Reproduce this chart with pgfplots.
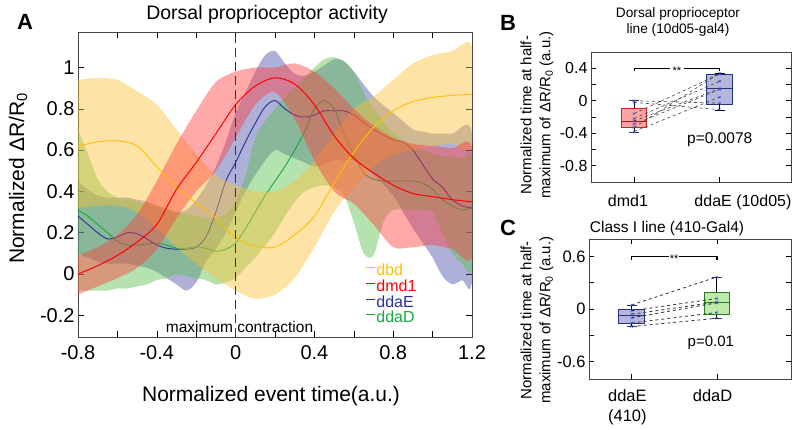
\documentclass[border=0pt]{standalone}
\usepackage{pgfplots}
\pgfplotsset{compat=1.18}
\usepackage{fontspec}
\setmainfont{Liberation Sans}

\definecolor{dbdc}{RGB}{255,192,0}
\definecolor{dmdc}{RGB}{255,0,0}
\definecolor{ddaEc}{RGB}{40,48,150}
\definecolor{ddaDc}{RGB}{20,170,60}
\definecolor{dbdf}{RGB}{251,193,58}
\definecolor{dmdf}{RGB}{255,64,64}
\definecolor{ddaEf}{RGB}{75,80,168}
\definecolor{ddaDf}{RGB}{92,192,78}
\definecolor{frame}{RGB}{70,70,70}
\definecolor{boxRf}{RGB}{250,165,165}
\definecolor{boxRd}{RGB}{190,40,40}
\definecolor{boxEf}{RGB}{180,182,222}
\definecolor{boxEd}{RGB}{40,50,120}
\definecolor{boxDf}{RGB}{190,235,172}
\definecolor{boxDd}{RGB}{40,120,40}
\definecolor{ptc}{RGB}{60,80,200}

\begin{document}
\begin{tikzpicture}
\path[use as bounding box] (0,0) rectangle (800pt,430pt);

% ---------------- Panel A ----------------
\begin{axis}[
  at={(78pt,93pt)}, anchor=south west, scale only axis,
  width=394pt, height=305pt,
  xmin=-0.8, xmax=1.2, ymin=-0.305, ymax=1.172,
  xtick={-0.8,-0.4,0,0.4,0.8,1.2}, xticklabels={-0.8,-0.4,0,0.4,0.8,1.2},
  minor xtick={-0.6,-0.2,0.2,0.6,1.0},
  ytick={-0.2,0,0.2,0.4,0.6,0.8,1}, yticklabels={-0.2,0,0.2,0.4,0.6,0.8,1},
  tick align=inside, major tick length=6pt, minor tick length=6pt,
  tick style={black, line width=0.6pt},
  axis line style={frame, line width=0.8pt},
  ticklabel style={font=\fontsize{20}{22}\selectfont},
  xticklabel style={yshift=-5pt},
  xlabel={Normalized event time(a.u.)},
  xlabel style={font=\fontsize{21}{24}\selectfont, at={(axis description cs:0.49,0)}, anchor=center, yshift=-59pt},
  ylabel={Normalized ΔR/R\textsubscript{0}},
  ylabel style={font=\fontsize{21}{24}\selectfont, at={(axis description cs:-0.152,0.52)}, anchor=center},
  title={Dorsal proprioceptor activity},
  title style={font=\fontsize{19.5}{22}\selectfont, at={(axis description cs:0.48,1)}, anchor=center, yshift=12pt},
  legend style={draw=none, fill=none, at={(0.73,0.242)}, anchor=north west, inner sep=0pt, row sep=1.5pt,
    font=\fontsize{16}{17}\selectfont, nodes={inner sep=0.6pt}},
  legend image code/.code={\draw[#1, line width=1pt] (0pt,3pt) -- (9pt,3pt);},
  legend cell align=left,
]
\addlegendimage{dbdc}
\addlegendimage{dmdc}
\addlegendimage{ddaEc}
\addlegendimage{ddaDc}
\legend{\textcolor{dbdc}{dbd},\textcolor{dmdc}{dmd1},\textcolor{ddaEc}{ddaE},\textcolor{ddaDc}{ddaD}}

% ddaE band (upper edge forward, lower edge backward)
\addplot[fill=ddaEf, fill opacity=0.45, draw=none, smooth] table {
-0.8 0.45
-0.75 0.41
-0.7 0.38
-0.65 0.37
-0.6 0.37
-0.55 0.37
-0.5 0.36
-0.45 0.35
-0.4 0.33
-0.35 0.31
-0.3 0.30
-0.25 0.31
-0.2 0.36
-0.15 0.43
-0.1 0.52
-0.05 0.64
0 0.78
0.05 0.88
0.1 0.98
0.15 1.06
0.2 1.08
0.25 1.02
0.3 0.97
0.35 0.96
0.4 0.98
0.45 1.01
0.5 1.04
0.55 1.03
0.6 0.98
0.7 0.86
0.8 0.78
0.85 0.74
0.9 0.70
0.95 0.69
1.0 0.68
1.1 0.68
1.2 0.68
1.2 -0.03
1.15 -0.03
1.1 -0.05
1.05 -0.01
1.0 0.08
0.95 0.15
0.9 0.22
0.85 0.30
0.8 0.38
0.7 0.48
0.6 0.55
0.55 0.55
0.5 0.55
0.45 0.53
0.4 0.52
0.35 0.54
0.3 0.56
0.25 0.58
0.2 0.60
0.15 0.55
0.1 0.48
0.05 0.40
0 0.30
-0.05 0.20
-0.1 0.12
-0.15 0.06
-0.2 -0.04
-0.25 -0.08
-0.3 -0.05
-0.35 -0.02
-0.4 0.01
-0.45 0.03
-0.5 0.04
-0.55 0.05
-0.6 0.05
-0.65 0.05
-0.7 0.06
-0.75 0.08
-0.8 0.10
} -- cycle;

% ddaD band
\addplot[fill=ddaDf, fill opacity=0.45, draw=none, smooth] table {
-0.8 0.70
-0.75 0.58
-0.7 0.46
-0.65 0.40
-0.6 0.37
-0.55 0.36
-0.5 0.35
-0.45 0.34
-0.4 0.33
-0.35 0.32
-0.3 0.30
-0.25 0.29
-0.2 0.28
-0.15 0.27
-0.1 0.27
-0.05 0.29
0 0.35
0.05 0.48
0.1 0.66
0.15 0.74
0.2 0.80
0.25 0.86
0.3 0.90
0.35 0.95
0.4 1.00
0.45 1.04
0.5 1.05
0.55 1.03
0.6 0.98
0.65 0.88
0.7 0.80
0.75 0.74
0.8 0.68
0.9 0.62
0.95 0.60
1.0 0.58
1.05 0.57
1.1 0.57
1.15 0.56
1.2 0.56
1.2 0.03
1.15 0.05
1.1 0.10
1.05 0.20
1.0 0.30
0.95 0.31
0.9 0.31
0.8 0.31
0.75 0.25
0.7 0.09
0.65 0.10
0.6 0.25
0.55 0.38
0.5 0.42
0.45 0.43
0.4 0.42
0.35 0.40
0.3 0.35
0.25 0.28
0.2 0.20
0.15 0.14
0.1 0.08
0.05 0.03
0 -0.02
-0.05 -0.04
-0.1 -0.05
-0.15 -0.03
-0.2 -0.02
-0.25 -0.01
-0.3 0.0
-0.35 -0.02
-0.4 -0.03
-0.45 -0.05
-0.5 -0.06
-0.55 -0.07
-0.6 -0.07
-0.65 -0.08
-0.7 -0.08
-0.75 -0.08
-0.8 -0.08
} -- cycle;

% ddaE mean
\addplot[ddaEc, line width=0.9pt, smooth] table {
-0.8 0.28
-0.75 0.24
-0.7 0.20
-0.65 0.17
-0.6 0.18
-0.55 0.20
-0.5 0.195
-0.45 0.17
-0.4 0.14
-0.35 0.125
-0.3 0.12
-0.25 0.12
-0.2 0.13
-0.15 0.18
-0.1 0.30
-0.05 0.45
0 0.54
0.05 0.64
0.1 0.73
0.15 0.81
0.2 0.84
0.25 0.80
0.3 0.77
0.35 0.76
0.4 0.77
0.45 0.79
0.5 0.79
0.55 0.79
0.6 0.77
0.7 0.70
0.8 0.65
0.85 0.64
0.9 0.60
0.95 0.53
1.0 0.46
1.05 0.42
1.1 0.36
1.15 0.33
1.2 0.32
};

% ddaD mean
\addplot[ddaDc, line width=0.9pt, smooth] table {
-0.8 0.31
-0.75 0.28
-0.7 0.24
-0.65 0.20
-0.6 0.16
-0.55 0.14
-0.5 0.14
-0.45 0.145
-0.4 0.15
-0.35 0.14
-0.3 0.125
-0.25 0.125
-0.2 0.13
-0.15 0.125
-0.1 0.11
-0.05 0.12
0 0.15
0.05 0.22
0.1 0.30
0.15 0.38
0.2 0.45
0.25 0.52
0.3 0.60
0.35 0.69
0.4 0.80
0.45 0.84
0.5 0.80
0.55 0.68
0.6 0.58
0.65 0.49
0.7 0.46
0.75 0.45
0.8 0.45
0.9 0.45
0.95 0.44
1.0 0.41
1.05 0.36
1.1 0.33
1.15 0.31
1.2 0.32
};

% dbd band
\addplot[fill=dbdf, fill opacity=0.45, draw=none, smooth] table {
-0.8 0.94
-0.7 0.95
-0.6 0.94
-0.5 0.885
-0.4 0.82
-0.3 0.70
-0.2 0.58
-0.1 0.48
0.0 0.43
0.1 0.40
0.2 0.40
0.3 0.45
0.4 0.55
0.5 0.68
0.6 0.80
0.7 0.86
0.8 0.94
0.9 1.02
1.0 1.06
1.1 1.08
1.2 1.10
1.2 0.63
1.1 0.63
1.0 0.62
0.9 0.60
0.8 0.58
0.7 0.52
0.6 0.42
0.5 0.30
0.4 0.13
0.3 -0.02
0.2 -0.10
0.1 -0.12
0.0 -0.08
-0.1 -0.02
-0.2 0.05
-0.3 0.13
-0.4 0.22
-0.5 0.30
-0.6 0.33
-0.7 0.33
-0.8 0.32
} -- cycle;

% dmd1 band
\addplot[fill=dmdf, fill opacity=0.45, draw=none, smooth] table {
-0.8 0.09
-0.7 0.13
-0.6 0.19
-0.5 0.29
-0.4 0.45
-0.3 0.63
-0.2 0.79
-0.1 0.93
0.0 0.98
0.1 1.00
0.2 1.00
0.3 1.02
0.4 0.98
0.5 0.90
0.6 0.80
0.7 0.72
0.8 0.66
0.9 0.63
1.0 0.62
1.1 0.61
1.2 0.61
1.2 0.09
1.1 0.12
1.0 0.14
0.9 0.13
0.8 0.13
0.7 0.24
0.6 0.34
0.5 0.40
0.4 0.55
0.3 0.75
0.2 0.88
0.1 0.82
0.0 0.66
-0.1 0.50
-0.2 0.40
-0.3 0.27
-0.4 0.12
-0.5 0.03
-0.6 -0.02
-0.7 -0.06
-0.8 -0.10
} -- cycle;

% dbd mean
\addplot[dbdc, line width=0.9pt, smooth] table {
-0.8 0.62
-0.7 0.64
-0.6 0.645
-0.5 0.62
-0.4 0.52
-0.3 0.42
-0.2 0.345
-0.1 0.27
0.0 0.175
0.1 0.135
0.2 0.13
0.3 0.19
0.4 0.28
0.5 0.44
0.6 0.59
0.7 0.71
0.8 0.79
0.9 0.835
1.0 0.855
1.1 0.865
1.2 0.87
};

% dmd1 mean
\addplot[dmdc, line width=1pt, smooth] table {
-0.8 0.0
-0.7 0.04
-0.6 0.09
-0.5 0.155
-0.4 0.24
-0.3 0.41
-0.2 0.54
-0.1 0.68
0.0 0.82
0.1 0.91
0.2 0.95
0.3 0.92
0.4 0.82
0.5 0.67
0.6 0.56
0.7 0.49
0.8 0.43
0.9 0.39
1.0 0.375
1.1 0.36
1.2 0.35
};

\addplot[black!80, line width=1pt, dash pattern=on 9pt off 5pt] coordinates {(0,-0.305) (0,1.172)};
\node[font=\fontsize{15.5}{17}\selectfont] at (axis cs:0.02,-0.255) {maximum contraction};
\end{axis}

% ---------------- Panel B ----------------
\begin{axis}[
  at={(591pt,248pt)}, anchor=south west, scale only axis,
  width=200pt, height=130pt,
  xmin=0.5, xmax=2.83, ymin=-1, ymax=0.6,
  xtick={1,2}, xticklabels={,}, xtick pos=left,
  extra x ticks={0.93,2.27}, extra x tick labels={dmd1,ddaE (10d05)},
  extra x tick style={major tick length=0pt, xticklabel style={yshift=-9pt}},
  ytick={-0.8,-0.4,0,0.4}, yticklabels={-0.8,-0.4,0,0.4},
  minor ytick={-0.6,-0.2,0.2},
  tick align=inside, major tick length=5pt, minor tick length=5pt,
  tick style={black, line width=0.6pt},
  axis line style={frame, line width=0.8pt},
  ticklabel style={font=\fontsize{16}{18}\selectfont},
  title={Dorsal proprioceptor\\line (10d05-gal4)},
  title style={font=\fontsize{13.7}{16.5}\selectfont, align=center, at={(axis description cs:0.435,1)}, anchor=center, yshift=24pt},
  ylabel={Normalized time at half-\\maximum of ΔR/R\textsubscript{0} (a.u.)},
  ylabel style={font=\fontsize{15}{19}\selectfont, align=center, at={(axis description cs:-0.27,0.515)}, anchor=center},
]
% dmd1 box
\addplot[draw=boxRd, fill=boxRf, line width=0.8pt] coordinates {(0.85,-0.33) (1.15,-0.33) (1.15,-0.095) (0.85,-0.095)} -- cycle;
\addplot[red!85!black, line width=1pt] coordinates {(0.85,-0.255) (1.15,-0.255)};
\addplot[black, line width=0.8pt] coordinates {(1,-0.095) (1,0)};
\addplot[boxEd, line width=0.9pt] coordinates {(0.94,0) (1.06,0)};
\addplot[black, line width=0.8pt] coordinates {(1,-0.33) (1,-0.385)};
\addplot[boxEd, line width=0.9pt] coordinates {(0.94,-0.385) (1.06,-0.385)};
% ddaE box
\addplot[draw=boxEd, fill=boxEf, line width=0.8pt] coordinates {(1.85,-0.04) (2.15,-0.04) (2.15,0.33) (1.85,0.33)} -- cycle;
\addplot[boxEd, line width=1pt] coordinates {(1.85,0.145) (2.15,0.145)};
\addplot[black, line width=0.8pt] coordinates {(2,0.33) (2,0.34)};
\addplot[black, line width=0.9pt] coordinates {(1.94,0.34) (2.06,0.34)};
\addplot[black, line width=0.8pt] coordinates {(2,-0.04) (2,-0.12)};
\addplot[black, line width=0.9pt] coordinates {(1.94,-0.12) (2.06,-0.12)};
% paired data
\addplot[black!75, dashed, line width=0.6pt] coordinates {(1,0.0) (2,-0.03)};
\addplot[black!75, dashed, line width=0.6pt] coordinates {(1,-0.02) (2,-0.11)};
\addplot[black!75, dashed, line width=0.6pt] coordinates {(1,-0.16) (2,0.33)};
\addplot[black!75, dashed, line width=0.6pt] coordinates {(1,-0.22) (2,0.24)};
\addplot[black!75, dashed, line width=0.6pt] coordinates {(1,-0.25) (2,0.15)};
\addplot[black!75, dashed, line width=0.6pt] coordinates {(1,-0.29) (2,0.14)};
\addplot[black!75, dashed, line width=0.6pt] coordinates {(1,-0.33) (2,0.34)};
\addplot[black!75, dashed, line width=0.6pt] coordinates {(1,-0.38) (2,0.045)};
\addplot[only marks, mark=x, mark size=1.8pt, ptc] coordinates {(1,0.0) (1,-0.02) (1,-0.16) (1,-0.22) (1,-0.25) (1,-0.29) (1,-0.33) (1,-0.38)
  (2,-0.03) (2,-0.11) (2,0.33) (2,0.24) (2,0.15) (2,0.14) (2,0.34) (2,0.045)};
\addplot[black, line width=0.8pt] coordinates {(1,0.36) (1,0.4) (1.42,0.4)};
\addplot[black, line width=0.8pt] coordinates {(1.58,0.4) (2,0.4) (2,0.36)};
\node[font=\fontsize{11}{12}\selectfont, yshift=-2pt] at (axis cs:1.5,0.4) {**};
\node[font=\fontsize{15.5}{17}\selectfont] at (axis cs:2.0,-0.48) {p=0.0078};
\end{axis}

% ---------------- Panel C ----------------
\begin{axis}[
  at={(589pt,51pt)}, anchor=south west, scale only axis,
  width=202pt, height=140pt,
  xmin=0.5, xmax=2.87, ymin=-0.8, ymax=0.8,
  xtick={1,2}, xticklabels={,},
  extra x ticks={0.95,1.95}, extra x tick labels={ddaE\\(410),ddaD},
  extra x tick style={major tick length=0pt, xticklabel style={yshift=-7pt}},
  xticklabel style={align=center},
  ytick={-0.6,0,0.6}, yticklabels={-0.6,0,0.6},
  minor ytick={-0.3,0.3},
  tick align=inside, major tick length=5pt, minor tick length=5pt,
  tick style={black, line width=0.6pt},
  axis line style={frame, line width=0.8pt},
  ticklabel style={font=\fontsize{16.5}{20}\selectfont},
  ylabel={Normalized time at half-\\maximum of ΔR/R\textsubscript{0} (a.u.)},
  ylabel style={font=\fontsize{15}{19}\selectfont, align=center, at={(axis description cs:-0.257,0.42)}, anchor=center},
]
% ddaE box
\addplot[draw=boxEd, fill=boxEf, line width=0.8pt] coordinates {(0.85,-0.16) (1.15,-0.16) (1.15,0.0) (0.85,0.0)} -- cycle;
\addplot[boxEd, line width=1pt] coordinates {(0.85,-0.076) (1.15,-0.076)};
\addplot[black, line width=0.8pt] coordinates {(1,0.0) (1,0.046)};
\addplot[boxEd, line width=0.9pt] coordinates {(0.94,0.046) (1.06,0.046)};
\addplot[black, line width=0.8pt] coordinates {(1,-0.16) (1,-0.2)};
\addplot[boxEd, line width=0.9pt] coordinates {(0.94,-0.2) (1.06,-0.2)};
% ddaD box
\addplot[draw=boxDd, fill=boxDf, line width=0.8pt] coordinates {(1.85,-0.065) (2.15,-0.065) (2.15,0.19) (1.85,0.19)} -- cycle;
\addplot[boxDd, line width=1pt] coordinates {(1.85,0.077) (2.15,0.077)};
\addplot[black, line width=0.8pt] coordinates {(2,0.19) (2,0.366)};
\addplot[boxEd, line width=0.9pt] coordinates {(1.94,0.366) (2.06,0.366)};
\addplot[black, line width=0.8pt] coordinates {(2,-0.065) (2,-0.106)};
\addplot[boxEd, line width=0.9pt] coordinates {(1.94,-0.106) (2.06,-0.106)};
% paired data
\addplot[black!80, dashed, line width=0.8pt] coordinates {(1,0.046) (2,0.366)};
\addplot[black!80, dashed, line width=0.8pt] coordinates {(1,-0.02) (2,0.12)};
\addplot[black!80, dashed, line width=0.8pt] coordinates {(1,-0.06) (2,0.08)};
\addplot[black!80, dashed, line width=0.8pt] coordinates {(1,-0.1) (2,0.07)};
\addplot[black!80, dashed, line width=0.8pt] coordinates {(1,-0.16) (2,-0.04)};
\addplot[black!80, dashed, line width=0.8pt] coordinates {(1,-0.2) (2,-0.106)};
\addplot[only marks, mark=x, mark size=1.8pt, ptc] coordinates {(1,0.046) (1,-0.02) (1,-0.06) (1,-0.1) (1,-0.16) (1,-0.2)
  (2,0.366) (2,0.12) (2,0.08) (2,0.07) (2,-0.04) (2,-0.106)};
\addplot[black, line width=1.3pt] coordinates {(1,0.56) (1,0.6) (1.44,0.6)};
\addplot[black, line width=1.3pt] coordinates {(1.56,0.6) (2,0.6) (2,0.56)};
\node[font=\fontsize{11}{12}\selectfont, yshift=-2pt] at (axis cs:1.5,0.6) {**};
\node[font=\fontsize{15}{17}\selectfont] at (axis cs:1.93,-0.39) {p=0.01};
\end{axis}

% panel C title
\node[font=\fontsize{15.5}{18}\selectfont] at (667pt,202pt) {Class I line (410-Gal4)};

% panel letters
\node[font=\bfseries\fontsize{22}{24}\selectfont] at (25pt,408pt) {A};
\node[font=\bfseries\fontsize{22}{24}\selectfont] at (508pt,407pt) {B};
\node[font=\bfseries\fontsize{22}{24}\selectfont] at (508pt,202pt) {C};
\end{tikzpicture}
\end{document}
